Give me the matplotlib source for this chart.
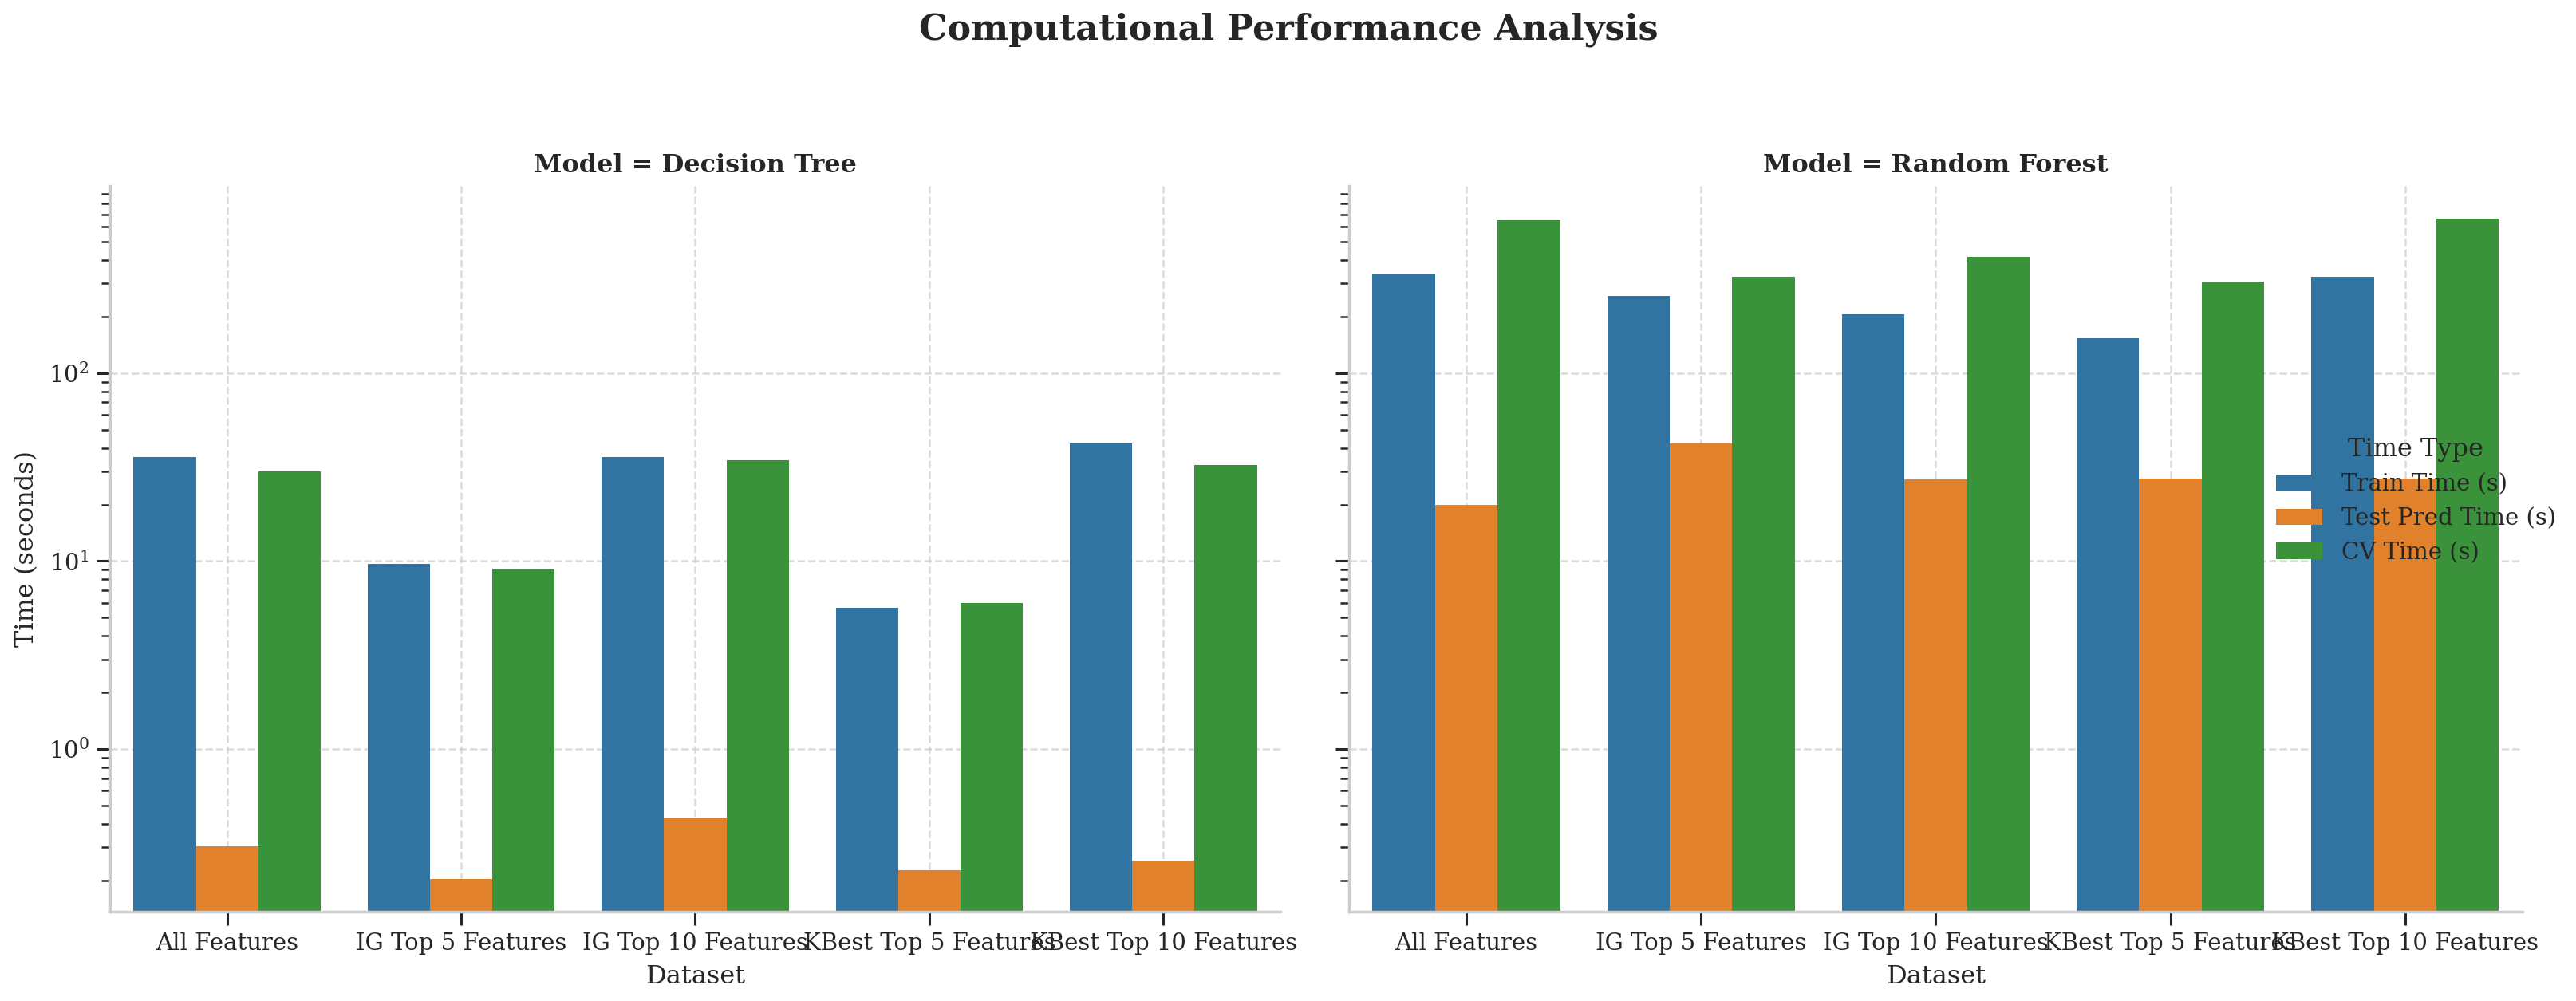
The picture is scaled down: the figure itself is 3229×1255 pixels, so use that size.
import matplotlib
matplotlib.use("Agg")
import matplotlib.pyplot as plt
import numpy as np
from matplotlib.patches import Patch

plt.rcParams['font.family'] = ['DejaVu Serif']
plt.rcParams['text.color'] = '#262626'
plt.rcParams['axes.labelcolor'] = '#262626'
plt.rcParams['xtick.color'] = '#262626'
plt.rcParams['ytick.color'] = '#262626'

datasets = ["All Features", "IG Top 5 Features", "IG Top 10 Features",
            "KBest Top 5 Features", "KBest Top 10 Features"]
models = ["Decision Tree", "Random Forest"]
time_types = ["Train Time (s)", "Test Pred Time (s)", "CV Time (s)"]

dt_train = [35.9, 9.7, 35.9, 5.64, 42.1]
dt_test = [0.305, 0.204, 0.43, 0.226, 0.255]
dt_cv = [29.9, 9.14, 34.4, 5.99, 32.4]

rf_train = [334, 257, 206, 153, 327]
rf_test = [20.0, 42.1, 27.1, 27.6, 27.6]
rf_cv = [649, 327, 417, 308, 662]

colors = ["#3274a1", "#e1812c", "#3a923a"]

values = {
    "Decision Tree": [dt_train, dt_test, dt_cv],
    "Random Forest": [rf_train, rf_test, rf_cv],
}

fig = plt.figure(figsize=(16.15, 6.275), dpi=200)
ax1 = fig.add_axes([0.0427, 0.0892, 0.4542, 0.7251])
ax2 = fig.add_axes([0.5235, 0.0892, 0.4554, 0.7251], sharey=ax1)
axes = [ax1, ax2]

x = np.arange(len(datasets))
w = 0.8 / 3
for ax, model in zip(axes, models):
    for i, (tt, c) in enumerate(zip(time_types, colors)):
        ax.bar(x + (i - 1) * w, values[model][i], width=w, color=c, label=tt,
               edgecolor='none', zorder=2)
    ax.set_yscale('log')
    ax.set_xticks(x)
    ax.set_xticklabels(datasets, fontsize=10.5)
    ax.set_xlim(-0.5, len(datasets) - 0.5)
    ax.set_xlabel("Dataset", fontsize=11.5)
    ax.set_title(f"Model = {model}", fontsize=11.5, fontweight='bold')
    ax.grid(True, which='major', linestyle='--', color='#cccccc', alpha=0.7, linewidth=0.9, zorder=0)
    ax.set_axisbelow(True)
    for s in ['top', 'right']:
        ax.spines[s].set_visible(False)
    for s in ['left', 'bottom']:
        ax.spines[s].set_color('#cccccc')
        ax.spines[s].set_linewidth(1.25)
    ax.tick_params(axis='both', which='major', length=6, width=1.1, labelsize=10.5)
    ax.tick_params(axis='y', which='minor', length=4, width=0.9)

ax1.set_ylabel("Time (seconds)", fontsize=11.5)
ax2.tick_params(axis='y', labelleft=False)

handles = [Patch(facecolor=c, label=t) for c, t in zip(colors, time_types)]
fig.legend(handles=handles, title="Time Type", loc='center right',
           bbox_to_anchor=(1.0, 0.5), frameon=False, fontsize=10.5,
           title_fontsize=11.5)

fig.suptitle("Computational Performance Analysis", fontsize=16,
             fontweight='bold', y=0.988)

fig.savefig("out.png", dpi=200)
